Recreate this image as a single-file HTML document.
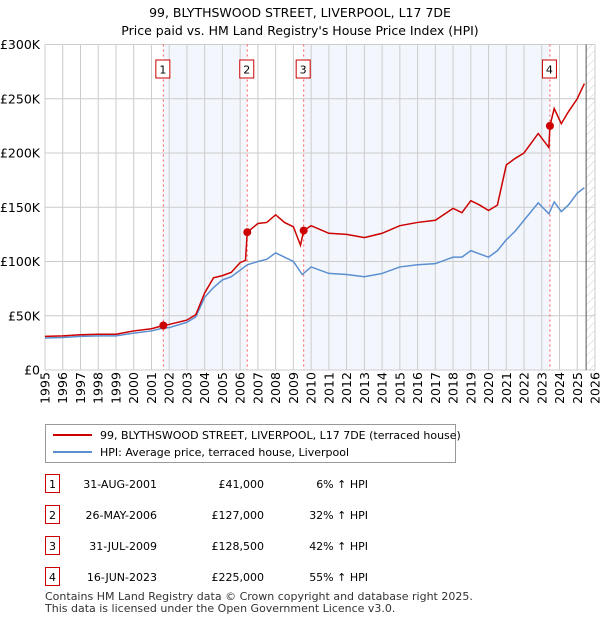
<!DOCTYPE html>
<html><head><meta charset="utf-8"><style>
body{margin:0;width:600px;height:620px;background:#fff;font-family:"Liberation Sans","DejaVu Sans",sans-serif;color:#000;overflow:hidden}
svg text{font-family:"DejaVu Sans","Liberation Sans",sans-serif}
</style></head><body>
<svg id="c" width="600" height="620"></svg>
<script>
const years=[1995,1996,1997,1998,1999,2000,2001,2001.67,2002,2003,2003.5,2004,2004.5,2005,2005.5,2006,2006.4,2007,2007.5,2008,2008.5,2009,2009.5,2010,2011,2012,2013,2014,2015,2016,2017,2018,2018.5,2019,2019.5,2020,2020.5,2021,2021.5,2022,2022.8,2023.4,2023.7,2024.1,2024.5,2025,2025.4];
const hpi=[29.5,30,31,31.5,31.5,34,36,38.7,39,44,49,67,76,83,86,92,97,100,102,108,104,100,88,95,89,88,86,89,95,97,98,104,104,110,107,104,110,120,128,138,154,144,155,146,152,163,168];
const redYears=[1995,1996,1997,1998,1999,2000,2001,2001.67,2002,2003,2003.5,2004,2004.5,2005,2005.5,2006,2006.3,2006.4,2007,2007.5,2008,2008.5,2009,2009.4,2009.58,2010,2011,2012,2013,2014,2015,2016,2017,2018,2018.5,2019,2019.5,2020,2020.5,2021,2021.5,2022,2022.8,2023.4,2023.46,2023.7,2024.1,2024.5,2025,2025.4];
const red=[31,31.5,32.5,33,33,36,38,41,42,46,51,71,85,87,90,99,101,127,135,136,143,136,132,115,128.5,133,126,125,122,126,133,136,138,149,145,156,152,147,152,189,195,200,218,205,225,241,227,238,250,264];
const saleYears=[2001.67,2006.4,2009.58,2023.46];
const salePrices=[41,127,128.5,225];
const yTicks=[0,50,100,150,200,250,300];
const yTickLabels=["£0","£50K","£100K","£150K","£200K","£250K","£300K"];
const xTicks=[1995,1996,1997,1998,1999,2000,2001,2002,2003,2004,2005,2006,2007,2008,2009,2010,2011,2012,2013,2014,2015,2016,2017,2018,2019,2020,2021,2022,2023,2024,2025,2026];
const saleDates=["31-AUG-2001","26-MAY-2006","31-JUL-2009","16-JUN-2023"];
const saleLabels=["£41,000","£127,000","£128,500","£225,000"];
const saleHpi=["6% ↑ HPI","32% ↑ HPI","42% ↑ HPI","55% ↑ HPI"];

const L=45,R=595,T=44.5,B=370;
const X=v=>L+(v-1995)/31*(R-L);
const Y=v=>B-v/300*(B-T);
const NS="http://www.w3.org/2000/svg";
const svg=document.getElementById('c');
function mk(tag,at,parent){const e=document.createElementNS(NS,tag);for(const k in at)e.setAttribute(k,at[k]);(parent||svg).appendChild(e);return e;}
function tx(x,y,s,at){const e=mk('text',Object.assign({x:x,y:y,'font-size':12},at||{}));e.textContent=s;return e;}

const defs=mk('defs',{});
const pat=mk('pattern',{id:'h',width:6,height:6,patternUnits:'userSpaceOnUse',patternTransform:'rotate(45)'},defs);
mk('line',{x1:0,y1:0,x2:0,y2:6,stroke:'#ccc','stroke-width':1},pat);

let e;
e=mk('rect',{x:X(saleYears[0]),y:T,width:X(saleYears[1])-X(saleYears[0]),height:B-T,fill:'#eef3fc',opacity:0.7});

e=mk('rect',{x:X(saleYears[2]),y:T,width:X(saleYears[3])-X(saleYears[2]),height:B-T,fill:'#eef3fc',opacity:0.7});

e=mk('rect',{x:X(2025.5),y:T,width:R-X(2025.5),height:B-T,fill:'url(#h)'});


xTicks.forEach(v=>{e=mk('line',{x1:X(v),x2:X(v),y1:T,y2:B,stroke:'#cccccc'});
 e=tx(0,0,String(v),{transform:`translate(${X(v)+4.5},${B+18}) rotate(-90)`,'text-anchor':'middle','font-size':12.5});});
yTicks.forEach((v,i)=>{e=mk('line',{x1:L,x2:R,y1:Y(v),y2:Y(v),stroke:'#cccccc'});
 e=tx(40,Y(v)+4.5,yTickLabels[i],{'text-anchor':'end','font-size':12.5});});
e=mk('line',{x1:X(2025.5),x2:X(2025.5),y1:T,y2:B,stroke:'#555'});

saleYears.forEach((s,i)=>{
 e=mk('line',{x1:X(s),x2:X(s),y1:T,y2:B,stroke:'#ff5555','stroke-dasharray':'2,3','stroke-width':1});
 e=mk('rect',{x:X(s)-7.5,y:60,width:14,height:18,fill:'#fff',stroke:'#cc0000'});
 e=tx(X(s)-0.5,73.5,String(i+1),{'text-anchor':'middle','font-size':11});
});

e=mk('polyline',{points:years.map((y,i)=>X(y)+','+Y(hpi[i])).join(' '),fill:'none',stroke:'#5b8fd0','stroke-width':1.5});

e=mk('polyline',{points:redYears.map((y,i)=>X(y)+','+Y(red[i])).join(' '),fill:'none',stroke:'#cc0000','stroke-width':1.5});

saleYears.forEach((s,i)=>{e=mk('circle',{cx:X(s),cy:Y(salePrices[i]),r:4,fill:'#cc0000'});});

e=tx(300,17,'99, BLYTHSWOOD STREET, LIVERPOOL, L17 7DE',{'text-anchor':'middle','font-size':12.5});
e=tx(300,35,"Price paid vs. HM Land Registry's House Price Index (HPI)",{'text-anchor':'middle','font-size':12.5});

e=mk('rect',{x:45.5,y:424.5,width:410,height:38,fill:'#fff',stroke:'#999'});
e=mk('line',{x1:53,x2:92,y1:435,y2:435,stroke:'#cc0000','stroke-width':2});
e=tx(100,439,'99, BLYTHSWOOD STREET, LIVERPOOL, L17 7DE (terraced house)',{'font-size':11});
e=mk('line',{x1:53,x2:92,y1:452,y2:452,stroke:'#5b8fd0','stroke-width':2});
e=tx(100,456,'HPI: Average price, terraced house, Liverpool',{'font-size':11});

saleDates.forEach((d,i)=>{const y=483+i*31;
 e=mk('rect',{x:45.5,y:y-8.5,width:14,height:18,fill:'#fff',stroke:'#cc0000'});
 e=tx(52.5,y+5,String(i+1),{'text-anchor':'middle','font-size':11});
 e=tx(157,y+5,d,{'text-anchor':'end','font-size':11});
 e=tx(264,y+5,saleLabels[i],{'text-anchor':'end','font-size':11});
 e=tx(368,y+5,saleHpi[i],{'text-anchor':'end','font-size':11});
});
e=tx(45,600,'Contains HM Land Registry data © Crown copyright and database right 2025.',{'font-size':11,fill:'#333'});
e=tx(45,612,'This data is licensed under the Open Government Licence v3.0.',{'font-size':11,fill:'#333'});
</script>
</body></html>
